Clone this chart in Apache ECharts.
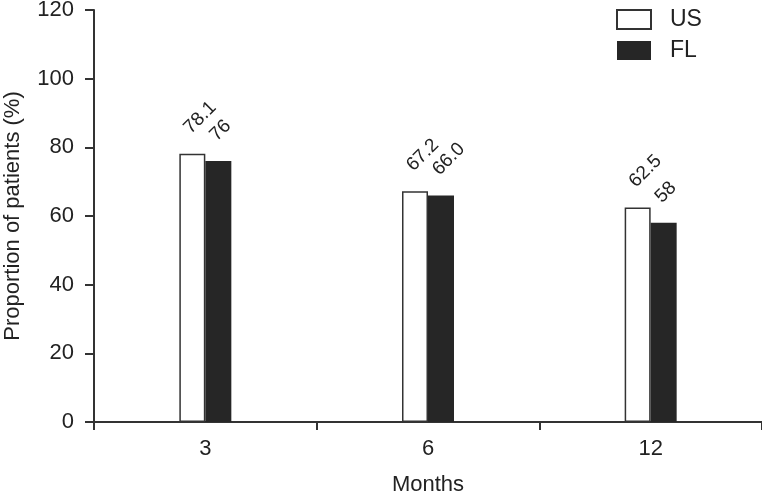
<!DOCTYPE html>
<html><head><meta charset="utf-8">
<script src="https://cdn.jsdelivr.net/npm/echarts@6/dist/echarts.min.js"></script>
<style>html,body{margin:0;padding:0;background:#fff}#c{width:762px;height:496px}</style>
</head><body><div id="c"></div>
<script>
const categories = ['3', '6', '12'];
const usValues = [78.1, 67.2, 62.5];
const flValues = [76, 66.0, 58];
const usLabels = ['78.1', '67.2', '62.5'];
const flLabels = ['76', '66.0', '58'];
const yTicks = [0, 20, 40, 60, 80, 100, 120];

const font = 'Liberation Sans, Arial, sans-serif';
const chart = echarts.init(document.getElementById('c'));
const lbl = (labels) => ({
  show: true, position: 'top', rotate: 45, align: 'left', verticalAlign: 'bottom',
  distance: 15, offset: [2, 0], fontSize: 19, color: '#222', fontFamily: font,
  formatter: p => labels[p.dataIndex]
});
chart.setOption({
  animation: false,
  textStyle: { fontFamily: font },
  grid: { left: 94, right: 0, top: 10, bottom: 74, containLabel: false, outerBoundsMode: 'none' },
  legend: {
    orient: 'vertical', left: 616, top: 8, padding: 0, itemWidth: 34, itemHeight: 19, itemGap: 8,
    icon: 'rect',
    textStyle: { fontSize: 23, lineHeight: 19, color: '#222', fontFamily: font, padding: [0, 0, 0, 14] },
    data: ['US', 'FL']
  },
  xAxis: {
    type: 'category', data: categories,
    name: 'Months', nameLocation: 'middle', nameGap: 52,
    nameTextStyle: { fontSize: 22, color: '#222', fontFamily: font },
    axisLine: { lineStyle: { color: '#333', width: 2 } },
    axisTick: { show: true, alignWithLabel: false, length: 8, lineStyle: { color: '#333', width: 2 } },
    axisLabel: { fontSize: 22, color: '#222', margin: 16, fontFamily: font }
  },
  yAxis: {
    type: 'value', min: 0, max: 120, interval: 20,
    name: 'Proportion of patients (%)', nameLocation: 'middle', nameGap: 70,
    nameTextStyle: { fontSize: 22, color: '#222', fontFamily: font },
    axisLine: { show: true, lineStyle: { color: '#333', width: 2 } },
    axisTick: { show: true, length: 9, lineStyle: { color: '#333', width: 2 } },
    splitLine: { show: false },
    axisLabel: { fontSize: 22, color: '#222', margin: 20, fontFamily: font,
      formatter: v => yTicks.includes(v) ? String(v) : '' }
  },
  series: [
    { name: 'US', type: 'bar', data: usValues, barWidth: 26, barGap: '0%',
      itemStyle: { color: '#fff', borderColor: '#333', borderWidth: 1.5 },
      label: lbl(usLabels) },
    { name: 'FL', type: 'bar', data: flValues, barWidth: 26, barGap: '0%',
      itemStyle: { color: '#262626', borderColor: '#262626', borderWidth: 0 },
      label: lbl(flLabels) }
  ]
});
</script></body></html>
